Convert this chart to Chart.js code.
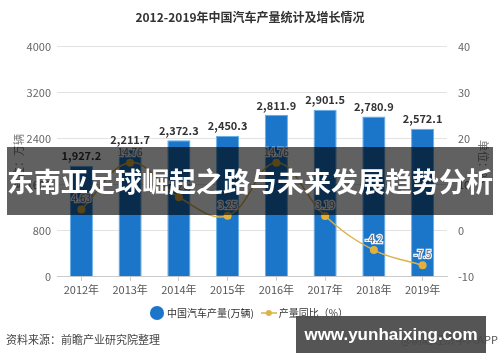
<!DOCTYPE html>
<html>
<head>
<meta charset="utf-8">
<script src="https://cdn.jsdelivr.net/npm/chart.js@4.4.1/dist/chart.umd.min.js"></script>
<style>
  body { margin: 0; background: #fff; }
  #wrap { position: relative; width: 500px; height: 362px; font-family: "Noto Sans CJK SC", sans-serif; }
  .source { position: absolute; left: 6px; top: 331px; font-size: 11px; color: #444; }
  .brand { position: absolute; right: 2px; top: 331px; font-size: 11px; color: #555; }
  .banner { position: absolute; left: 7px; top: 147px; width: 486px; height: 68px; background: rgba(0,0,0,0.62);
            color: #fff; font-weight: bold; font-size: 27px; line-height: 68px; text-align: center; white-space: nowrap; }
  .site { position: absolute; left: 296px; top: 316px; width: 190px; height: 37px; background: rgba(70,70,70,0.92);
          color: #fff; font-weight: bold; font-size: 17px; line-height: 37px; text-align: center; white-space: nowrap;
          font-family: "Liberation Sans", Arial, sans-serif; }
</style>
</head>
<body>
<div id="wrap">
  <canvas id="chart"></canvas>
  <div class="source">资料来源：前瞻产业研究院整理</div>
  <div class="brand">@前瞻经济学人APP</div>
  <div class="banner">东南亚足球崛起之路与未来发展趋势分析</div>
  <div class="site">www.yunhaixing.com</div>
</div>
<script>
const years = ['2012年', '2013年', '2014年', '2015年', '2016年', '2017年', '2018年', '2019年'];
const output = [1927.2, 2211.7, 2372.3, 2450.3, 2811.9, 2901.5, 2780.9, 2572.1];
const growth = [4.63, 14.76, 7.26, 3.25, 14.76, 3.19, -4.2, -7.5];

const font = "'Noto Sans CJK SC', sans-serif";
const barColor = '#1b75c9';
const lineColor = '#dcb14a';

// legend icon for the line series: short line with a dot
const lineIcon = document.createElement('canvas');
lineIcon.width = 16; lineIcon.height = 8;
const ic = lineIcon.getContext('2d');
ic.strokeStyle = lineColor; ic.lineWidth = 1.5;
ic.beginPath(); ic.moveTo(0, 4); ic.lineTo(16, 4); ic.stroke();
ic.fillStyle = lineColor;
ic.beginPath(); ic.arc(8, 4, 3, 0, Math.PI * 2); ic.fill();

const valueLabels = {
  id: 'valueLabels',
  afterDatasetsDraw(chart) {
    const ctx = chart.ctx;
    ctx.save();
    ctx.textAlign = 'center';
    ctx.textBaseline = 'bottom';
    chart.getDatasetMeta(1).data.forEach((el, i) => {
      ctx.font = "bold 11px " + font;
      ctx.fillStyle = '#333';
      ctx.fillText(output[i].toLocaleString('en-US', {minimumFractionDigits: 1}), el.x, el.y - 4);
    });
    chart.getDatasetMeta(0).data.forEach((el, i) => {
      ctx.font = "10px " + font;
      ctx.lineWidth = 2.5;
      ctx.strokeStyle = 'rgba(255,255,255,0.9)';
      ctx.strokeText(String(growth[i]), el.x, el.y - 6);
      ctx.fillStyle = '#666';
      ctx.fillText(String(growth[i]), el.x, el.y - 6);
    });
    ctx.restore();
  }
};

const chart = new Chart(document.getElementById('chart'), {
  data: {
    labels: years,
    datasets: [{
      type: 'line',
      label: '产量同比（%）',
      data: growth,
      yAxisID: 'y1',
      borderColor: lineColor,
      backgroundColor: lineColor,
      borderWidth: 1.5,
      pointRadius: 4,
      pointBackgroundColor: '#e2b13c',
      pointBorderWidth: 0,
      tension: 0.4,
      order: 0
    }, {
      type: 'bar',
      label: '中国汽车产量(万辆)',
      data: output,
      yAxisID: 'y',
      backgroundColor: barColor,
      borderColor: '#63aee8',
      borderWidth: 1,
      categoryPercentage: 0.5,
      barPercentage: 0.95,
      order: 1
    }]
  },
  options: {
    responsive: true,
    maintainAspectRatio: false,
    animation: false,
    layout: { padding: { left: 0, right: 0, top: 0, bottom: 34 } },
    scales: {
      x: {
        offset: true,
        grid: { offset: false, drawOnChartArea: false, tickLength: 4, color: '#ccc' },
        border: { color: '#ccc' },
        ticks: { color: '#555', font: { size: 11, family: font }, padding: 2 }
      },
      y: {
        position: 'left',
        min: 0, max: 4000,
        ticks: { stepSize: 800, color: '#666', font: { size: 11, family: font }, padding: 6,
                 callback: v => String(v) },
        grid: { color: '#e2e2e2', drawTicks: false },
        border: { display: false },
        title: { display: true, text: '单位：万辆', color: '#777', font: { size: 11, family: font }, padding: { top: 12, bottom: 0 } },
        afterFit(scale) { scale.width = 57; }
      },
      y1: {
        position: 'right',
        min: -10, max: 40,
        ticks: { stepSize: 10, color: '#666', font: { size: 11, family: font }, padding: 11 },
        grid: { drawOnChartArea: false, drawTicks: false },
        border: { display: false },
        title: { display: true, text: '单位：%', color: '#777', font: { size: 11, family: font }, padding: { top: 10, bottom: 0 } },
        afterFit(scale) { scale.width = 53; }
      }
    },
    plugins: {
      title: {
        display: true,
        text: '2012-2019年中国汽车产量统计及增长情况',
        color: '#333',
        font: { size: 12, weight: 'bold', family: font },
        padding: { top: 10, bottom: 22 }
      },
      legend: {
        position: 'bottom',
        labels: {
          color: '#333',
          font: { size: 10, family: font },
          usePointStyle: true,
          padding: 10,
          generateLabels() {
            return [
              { text: '中国汽车产量(万辆)', pointStyle: 'circle', fillStyle: barColor, strokeStyle: barColor, lineWidth: 0, fontColor: '#333' },
              { text: '产量同比（%）', pointStyle: lineIcon, fillStyle: lineColor, strokeStyle: lineColor, lineWidth: 0, fontColor: '#333' }
            ];
          }
        }
      },
      tooltip: { enabled: false }
    }
  },
  plugins: [valueLabels]
});
</script>
</body>
</html>
